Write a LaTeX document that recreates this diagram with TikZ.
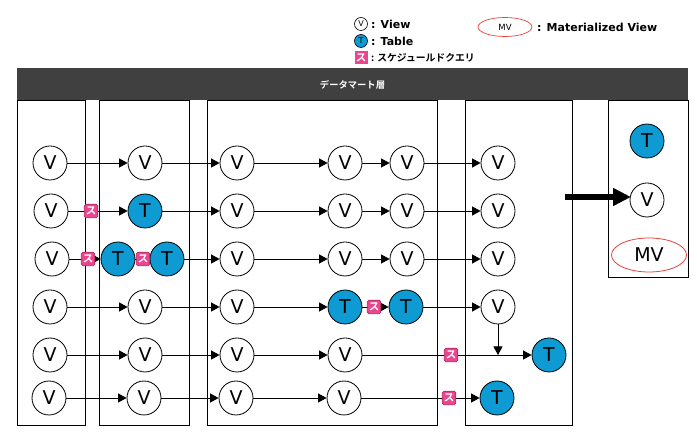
\documentclass[tikz,border=0pt]{standalone}
\usepackage{fontspec}
\setmainfont{DejaVu Sans}
\newfontfamily\cjkfont{Noto Sans CJK JP}[BoldFont={* Bold}]
\usetikzlibrary{arrows.meta,shapes.geometric}
\pgfdeclarelayer{bg}
\pgfsetlayers{bg,main}
\definecolor{tblue}{HTML}{0E9BD3}
\definecolor{skdpink}{HTML}{E9468F}
\definecolor{skdedge}{HTML}{B5245F}
\definecolor{bandgray}{HTML}{404040}
\definecolor{mvred}{HTML}{E8413C}
\tikzset{
  viewnode/.style={circle,draw=black,fill=white,line width=.8pt,minimum size=34pt,inner sep=0pt,font=\fontsize{19}{19}\selectfont},
  tablenode/.style={viewnode,fill=tblue},
  skd/.style={rectangle,rounded corners=1.5pt,draw=skdedge,line width=.7pt,fill=skdpink,text=white,minimum size=13.5pt,inner sep=0pt,font=\cjkfont\bfseries\fontsize{10.5}{10.5}\selectfont},
  panel/.style={rectangle,draw=black,line width=.9pt,inner sep=0pt,anchor=north west},
  conn/.style={draw=black,line width=.9pt,-{Triangle[length=8.5pt,width=9pt]}},
  legendtext/.style={anchor=west,inner sep=0pt,font=\bfseries\fontsize{11}{12}\selectfont},
  legendcjk/.style={anchor=west,inner sep=0pt,font=\cjkfont\bfseries\fontsize{9.8}{12}\selectfont},
}
\begin{document}
\begin{tikzpicture}[x=1pt,y=-1pt]
\useasboundingbox (0,0) rectangle (697,435);
% panels
\node[panel,minimum width=68pt,minimum height=325pt] (p1) at (16.5,100) {};
\node[panel,minimum width=90pt,minimum height=325pt] (p2) at (98.5,100) {};
\node[panel,minimum width=230pt,minimum height=325pt] (p3) at (206.5,100) {};
\node[panel,minimum width=107pt,minimum height=325pt] (p4) at (464.5,100) {};
\node[panel,minimum width=80pt,minimum height=177pt] (p5) at (608,100) {};
\node[rectangle,fill=bandgray,text=white,minimum width=671pt,minimum height=32pt,inner sep=0pt,font=\cjkfont\bfseries\fontsize{9.3}{9.3}\selectfont] (band) at (352.5,84.5) {データマート層};
% row 1
\node[viewnode] (a1) at (50,163) {V};
\node[viewnode] (a2) at (145,163) {V};
\node[viewnode] (a3) at (237,163) {V};
\node[viewnode] (a4) at (345,163) {V};
\node[viewnode] (a5) at (407,163) {V};
\node[viewnode] (a6) at (498,163) {V};
% row 2
\node[viewnode] (b1) at (51,211) {V};
\node[tablenode] (b2) at (145,211) {T};
\node[viewnode] (b3) at (237,211) {V};
\node[viewnode] (b4) at (345,211) {V};
\node[viewnode] (b5) at (407,211) {V};
\node[viewnode] (b6) at (498,211) {V};
\node[skd] (bs) at (91,211) {ス};
% row 3
\node[viewnode] (c1) at (52,259) {V};
\node[tablenode] (c2) at (118,259) {T};
\node[tablenode] (c3) at (167,259) {T};
\node[viewnode] (c4) at (237,259) {V};
\node[viewnode] (c5) at (345,259) {V};
\node[viewnode] (c6) at (407,259) {V};
\node[viewnode] (c7) at (498,259) {V};
\node[skd] (cs1) at (88,259) {ス};
\node[skd] (cs2) at (143,259) {ス};
% row 4
\node[viewnode] (d1) at (50,307) {V};
\node[viewnode] (d2) at (145,307) {V};
\node[viewnode] (d3) at (237,307) {V};
\node[tablenode] (d4) at (345,307) {T};
\node[tablenode] (d5) at (406,307) {T};
\node[viewnode] (d6) at (498,307) {V};
\node[skd] (ds) at (374,307) {ス};
% row 5
\node[viewnode] (e1) at (50,355) {V};
\node[viewnode] (e2) at (145,355) {V};
\node[viewnode] (e3) at (237,355) {V};
\node[viewnode] (e4) at (345,355) {V};
\node[tablenode] (e5) at (549,355) {T};
\node[skd] (es) at (451,355) {ス};
\coordinate (ej) at (498,355);
% row 6
\node[viewnode] (f1) at (49,398) {V};
\node[viewnode] (f2) at (144,398) {V};
\node[viewnode] (f3) at (236,398) {V};
\node[viewnode] (f4) at (344,398) {V};
\node[tablenode] (f5) at (497,398) {T};
\node[skd] (fs) at (449,398) {ス};
% right panel samples
\node[tablenode] (st) at (647,141) {T};
\node[viewnode] (sv) at (647,200) {V};
\node[ellipse,draw=mvred,line width=.8pt,fill=white,minimum width=75pt,minimum height=34pt,inner sep=0pt,font=\fontsize{19}{19}\selectfont] (smv) at (649,255) {MV};
\coordinate (thick) at (565,197);
\coordinate (thickend) at (631,197);
% legend
\node[viewnode,minimum size=13pt,line width=.6pt,font=\fontsize{8}{8}\selectfont] (lv) at (361,24) {V};
\node[tablenode,minimum size=13pt,line width=.6pt,font=\fontsize{8}{8}\selectfont] (lt) at (361,41) {T};
\node[skd,rounded corners=0pt,draw=none,minimum size=13pt] (ls) at (361,58) {ス};
\node[legendtext] (ltv) at (371,24) {: View};
\node[legendtext] (ltt) at (371,41) {: Table};
\node[legendcjk] (lts) at (371,58) {: スケジュールドクエリ};
\node[ellipse,draw=mvred,line width=.7pt,fill=white,minimum width=54pt,minimum height=19pt,inner sep=0pt,font=\fontsize{8.5}{8.5}\selectfont] (lmv) at (505,27) {MV};
\node[legendtext] (ltm) at (537,27) {: Materialized View};
% connectors under the nodes
\begin{pgfonlayer}{bg}
\foreach \s/\t in {a1/a2,a2/a3,a3/a4,a4/a5,a5/a6,
                   b1/b2,b2/b3,b3/b4,b4/b5,b5/b6,
                   c1/c2,c2/c3,c3/c4,c4/c5,c5/c6,c6/c7,
                   d1/d2,d2/d3,d3/d4,d4/d5,d5/d6,
                   e1/e2,e2/e3,e3/e4,e4/e5,
                   f1/f2,f2/f3,f3/f4,f4/f5}
  \draw[conn] (\s) -- (\t);
\draw[conn] (d6) -- (ej);
\end{pgfonlayer}
\draw[line width=6pt,-{Triangle[length=18pt,width=17pt]}] (thick) -- (thickend);
\end{tikzpicture}
\end{document}
